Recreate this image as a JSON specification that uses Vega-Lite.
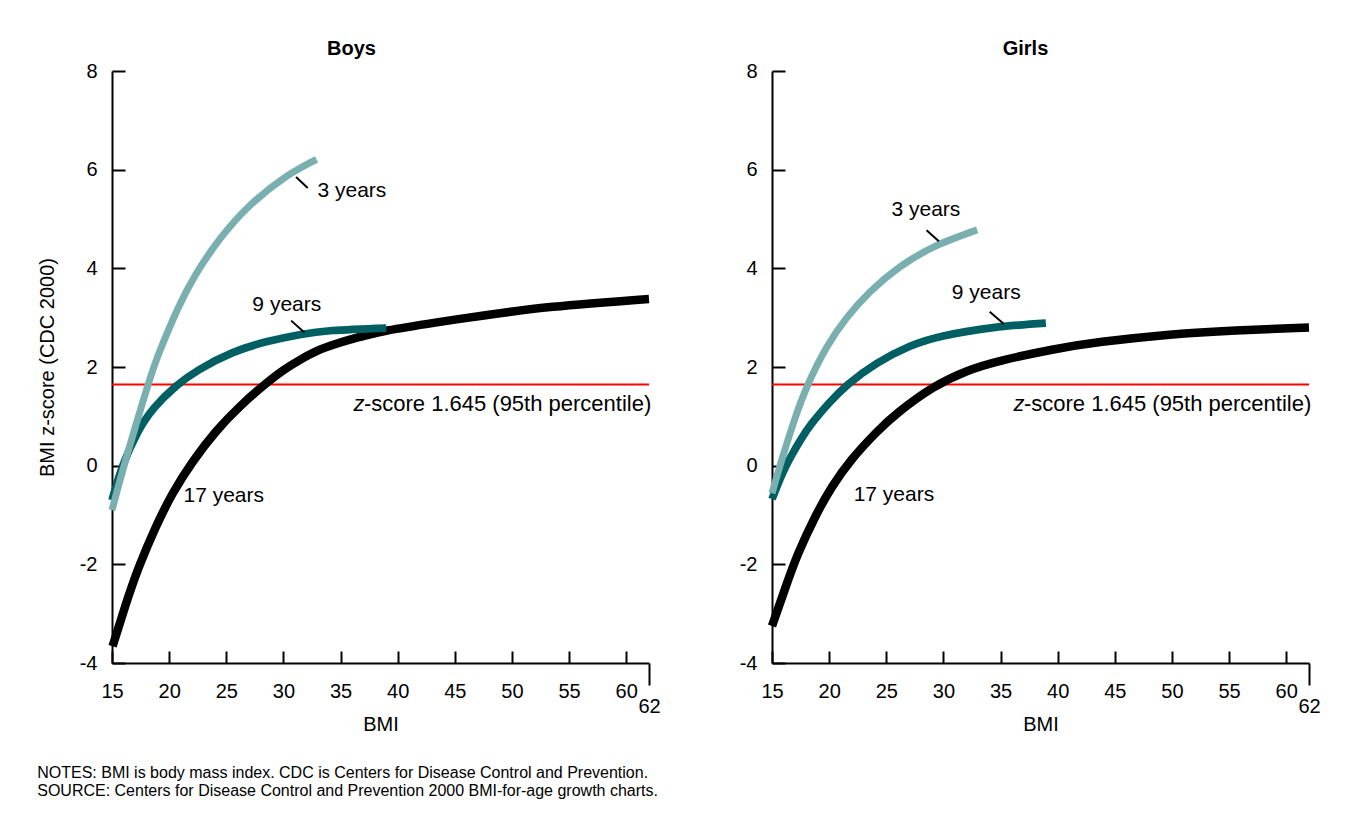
{
  "$schema": "https://vega.github.io/schema/vega-lite/v6.json",
  "padding": {"left": 37, "top": 39, "right": 20, "bottom": 20},
  "background": "white",
  "datasets": {
    "curves": [
      {"sex": "Boys", "age": "17 years", "bmi": 15.05, "z": -3.66},
      {"sex": "Boys", "age": "17 years", "bmi": 16.17, "z": -2.84},
      {"sex": "Boys", "age": "17 years", "bmi": 17.35, "z": -2.06},
      {"sex": "Boys", "age": "17 years", "bmi": 18.83, "z": -1.25},
      {"sex": "Boys", "age": "17 years", "bmi": 20.3, "z": -0.57},
      {"sex": "Boys", "age": "17 years", "bmi": 22.07, "z": 0.08},
      {"sex": "Boys", "age": "17 years", "bmi": 24.1, "z": 0.69},
      {"sex": "Boys", "age": "17 years", "bmi": 26.2, "z": 1.2},
      {"sex": "Boys", "age": "17 years", "bmi": 28.4, "z": 1.65},
      {"sex": "Boys", "age": "17 years", "bmi": 30.1, "z": 1.95},
      {"sex": "Boys", "age": "17 years", "bmi": 31.5, "z": 2.15},
      {"sex": "Boys", "age": "17 years", "bmi": 33.0, "z": 2.33},
      {"sex": "Boys", "age": "17 years", "bmi": 34.5, "z": 2.46},
      {"sex": "Boys", "age": "17 years", "bmi": 35.9, "z": 2.56},
      {"sex": "Boys", "age": "17 years", "bmi": 37.5, "z": 2.655},
      {"sex": "Boys", "age": "17 years", "bmi": 39.1, "z": 2.74},
      {"sex": "Boys", "age": "17 years", "bmi": 43.3, "z": 2.9},
      {"sex": "Boys", "age": "17 years", "bmi": 47.7, "z": 3.05},
      {"sex": "Boys", "age": "17 years", "bmi": 53.6, "z": 3.22},
      {"sex": "Boys", "age": "17 years", "bmi": 62.0, "z": 3.38},
      {"sex": "Boys", "age": "9 years", "bmi": 15.0, "z": -0.7},
      {"sex": "Boys", "age": "9 years", "bmi": 15.95, "z": 0.0},
      {"sex": "Boys", "age": "9 years", "bmi": 17.26, "z": 0.68},
      {"sex": "Boys", "age": "9 years", "bmi": 18.72, "z": 1.18},
      {"sex": "Boys", "age": "9 years", "bmi": 20.6, "z": 1.61},
      {"sex": "Boys", "age": "9 years", "bmi": 22.66, "z": 1.95},
      {"sex": "Boys", "age": "9 years", "bmi": 25.57, "z": 2.29},
      {"sex": "Boys", "age": "9 years", "bmi": 28.5, "z": 2.51},
      {"sex": "Boys", "age": "9 years", "bmi": 31.4, "z": 2.655},
      {"sex": "Boys", "age": "9 years", "bmi": 34.3, "z": 2.74},
      {"sex": "Boys", "age": "9 years", "bmi": 39.0, "z": 2.79},
      {"sex": "Boys", "age": "3 years", "bmi": 15.0, "z": -0.9},
      {"sex": "Boys", "age": "3 years", "bmi": 16.1, "z": 0.035},
      {"sex": "Boys", "age": "3 years", "bmi": 18.13, "z": 1.62},
      {"sex": "Boys", "age": "3 years", "bmi": 19.3, "z": 2.39},
      {"sex": "Boys", "age": "3 years", "bmi": 20.76, "z": 3.18},
      {"sex": "Boys", "age": "3 years", "bmi": 22.37, "z": 3.89},
      {"sex": "Boys", "age": "3 years", "bmi": 24.4, "z": 4.58},
      {"sex": "Boys", "age": "3 years", "bmi": 27.0, "z": 5.26},
      {"sex": "Boys", "age": "3 years", "bmi": 30.24, "z": 5.86},
      {"sex": "Boys", "age": "3 years", "bmi": 32.9, "z": 6.21},
      {"sex": "Girls", "age": "17 years", "bmi": 15.0, "z": -3.25},
      {"sex": "Girls", "age": "17 years", "bmi": 16.15, "z": -2.49},
      {"sex": "Girls", "age": "17 years", "bmi": 17.3, "z": -1.78},
      {"sex": "Girls", "age": "17 years", "bmi": 18.8, "z": -1.03},
      {"sex": "Girls", "age": "17 years", "bmi": 20.26, "z": -0.43},
      {"sex": "Girls", "age": "17 years", "bmi": 22.0, "z": 0.13},
      {"sex": "Girls", "age": "17 years", "bmi": 24.1, "z": 0.665},
      {"sex": "Girls", "age": "17 years", "bmi": 26.1, "z": 1.085},
      {"sex": "Girls", "age": "17 years", "bmi": 29.07, "z": 1.575},
      {"sex": "Girls", "age": "17 years", "bmi": 32.0, "z": 1.91},
      {"sex": "Girls", "age": "17 years", "bmi": 35.1, "z": 2.13},
      {"sex": "Girls", "age": "17 years", "bmi": 39.5, "z": 2.35},
      {"sex": "Girls", "age": "17 years", "bmi": 43.9, "z": 2.51},
      {"sex": "Girls", "age": "17 years", "bmi": 49.8, "z": 2.655},
      {"sex": "Girls", "age": "17 years", "bmi": 55.6, "z": 2.74},
      {"sex": "Girls", "age": "17 years", "bmi": 62.0, "z": 2.8},
      {"sex": "Girls", "age": "9 years", "bmi": 15.0, "z": -0.68},
      {"sex": "Girls", "age": "9 years", "bmi": 15.8, "z": -0.22},
      {"sex": "Girls", "age": "9 years", "bmi": 16.6, "z": 0.16},
      {"sex": "Girls", "age": "9 years", "bmi": 17.5, "z": 0.52},
      {"sex": "Girls", "age": "9 years", "bmi": 18.5, "z": 0.86},
      {"sex": "Girls", "age": "9 years", "bmi": 20.0, "z": 1.27},
      {"sex": "Girls", "age": "9 years", "bmi": 21.65, "z": 1.645},
      {"sex": "Girls", "age": "9 years", "bmi": 24.16, "z": 2.07},
      {"sex": "Girls", "age": "9 years", "bmi": 27.07, "z": 2.42},
      {"sex": "Girls", "age": "9 years", "bmi": 29.99, "z": 2.63},
      {"sex": "Girls", "age": "9 years", "bmi": 34.36, "z": 2.8},
      {"sex": "Girls", "age": "9 years", "bmi": 38.97, "z": 2.89},
      {"sex": "Girls", "age": "3 years", "bmi": 15.0, "z": -0.56},
      {"sex": "Girls", "age": "3 years", "bmi": 15.7, "z": 0.0},
      {"sex": "Girls", "age": "3 years", "bmi": 16.9, "z": 0.88},
      {"sex": "Girls", "age": "3 years", "bmi": 18.15, "z": 1.645},
      {"sex": "Girls", "age": "3 years", "bmi": 19.79, "z": 2.4},
      {"sex": "Girls", "age": "3 years", "bmi": 21.54, "z": 2.995},
      {"sex": "Girls", "age": "3 years", "bmi": 23.57, "z": 3.52},
      {"sex": "Girls", "age": "3 years", "bmi": 26.2, "z": 4.03},
      {"sex": "Girls", "age": "3 years", "bmi": 29.4, "z": 4.46},
      {"sex": "Girls", "age": "3 years", "bmi": 32.96, "z": 4.78}
    ],
    "labels": [
      {"sex": "Boys", "label": "3 years", "bmi": 36.0, "z": 5.56},
      {"sex": "Boys", "label": "9 years", "bmi": 30.3, "z": 3.26},
      {"sex": "Boys", "label": "17 years", "bmi": 24.78, "z": -0.61},
      {"sex": "Girls", "label": "3 years", "bmi": 28.47, "z": 5.19},
      {"sex": "Girls", "label": "9 years", "bmi": 33.75, "z": 3.51},
      {"sex": "Girls", "label": "17 years", "bmi": 25.67, "z": -0.6}
    ],
    "leaders": [
      {"sex": "Boys", "bmi": 31.11, "z": 5.85, "bmi2": 32.13, "z2": 5.63},
      {"sex": "Boys", "bmi": 30.68, "z": 2.94, "bmi2": 31.84, "z2": 2.7},
      {"sex": "Girls", "bmi": 28.53, "z": 4.77, "bmi2": 29.6, "z2": 4.55},
      {"sex": "Girls", "bmi": 34.05, "z": 3.12, "bmi2": 35.3, "z2": 2.87}
    ],
    "cutoff": [{"z": 1.645, "bmi": 62.2, "zt": 1.24, "bmiz": 37.1}]
  },
  "bounds": "flush",
  "spacing": 123,
  "title": {
    "text": ["NOTES: BMI is body mass index. CDC is Centers for Disease Control and Prevention.", "SOURCE: Centers for Disease Control and Prevention 2000 BMI-for-age growth charts."],
    "orient": "bottom",
    "anchor": "start",
    "fontSize": 16,
    "fontWeight": "normal",
    "lineHeight": 18,
    "offset": 31,
    "color": "#000000"
  },
  "hconcat": [
    {
      "title": {"text": "Boys", "fontSize": 20, "fontWeight": "bold", "anchor": "middle", "frame": "group", "dx": -29, "offset": 2, "color": "#000000"},
      "width": 537,
      "height": 592,
      "layer": [
        {
          "data": {"name": "cutoff"},
          "mark": {"type": "rule", "color": "#FF0000", "strokeWidth": 2},
          "encoding": {"y": {"field": "z", "type": "quantitative"}}
        },
        {
          "data": {"name": "curves"},
          "transform": [{"filter": "datum.sex == 'Boys'"}],
          "mark": {"type": "line", "interpolate": "natural", "strokeCap": "butt"},
          "encoding": {
            "x": {"field": "bmi", "type": "quantitative", "title": "BMI",
              "scale": {"domain": [15, 62], "nice": false, "zero": false},
              "axis": {"values": [15, 20, 25, 30, 35, 40, 45, 50, 55, 60, 62], "labelOverlap": false, "labelFlush": false, "labelExpr": "'' + datum.value",
                "tickSize": {"condition": {"test": "datum.value == 62", "value": 22}, "value": -12},
                "labelPadding": {"condition": {"test": "datum.value == 62", "value": 11}, "value": 30},
                "titlePadding": -2}},
            "y": {"field": "z", "type": "quantitative", "title": "BMI z-score (CDC 2000)",
              "scale": {"domain": [-4, 8], "nice": false, "zero": false},
              "axis": {"values": [-4, -2, 0, 2, 4, 6, 8], "labelOverlap": false, "labelFlush": false, "labelExpr": "'' + datum.value", "tickSize": -13, "labelPadding": 28, "titlePadding": 22}},
            "color": {"field": "age", "type": "nominal", "legend": null,
              "scale": {"domain": ["17 years", "9 years", "3 years"], "range": ["#000000", "#005F63", "#7AAFAF"]}},
            "strokeWidth": {"field": "age", "type": "nominal", "legend": null,
              "scale": {"domain": ["17 years", "9 years", "3 years"], "range": [8.5, 7, 7]}}
          }
        },
        {
          "data": {"name": "leaders"},
          "transform": [{"filter": "datum.sex == 'Boys'"}],
          "mark": {"type": "rule", "color": "#000000", "strokeWidth": 2},
          "encoding": {
            "x": {"field": "bmi", "type": "quantitative"}, "x2": {"field": "bmi2"},
            "y": {"field": "z", "type": "quantitative"}, "y2": {"field": "z2"}
          }
        },
        {
          "data": {"name": "labels"},
          "transform": [{"filter": "datum.sex == 'Boys'"}],
          "mark": {"type": "text", "fontSize": 21, "align": "center", "baseline": "middle", "color": "#000000"},
          "encoding": {
            "x": {"field": "bmi", "type": "quantitative"},
            "y": {"field": "z", "type": "quantitative"},
            "text": {"field": "label"}
          }
        },
        {
          "data": {"name": "cutoff"},
          "mark": {"type": "text", "fontSize": 22, "align": "right", "baseline": "middle", "color": "#000000", "text": "-score 1.645 (95th percentile)"},
          "encoding": {
            "x": {"field": "bmi", "type": "quantitative"},
            "y": {"field": "zt", "type": "quantitative"}
          }
        },
        {
          "data": {"name": "cutoff"},
          "mark": {"type": "text", "fontSize": 22, "fontStyle": "italic", "align": "right", "baseline": "middle", "color": "#000000", "text": "z"},
          "encoding": {
            "x": {"field": "bmiz", "type": "quantitative"},
            "y": {"field": "zt", "type": "quantitative"}
          }
        }
      ]
    },
    {
      "title": {"text": "Girls", "fontSize": 20, "fontWeight": "bold", "anchor": "middle", "frame": "group", "dx": -15, "offset": 2, "color": "#000000"},
      "width": 537,
      "height": 592,
      "layer": [
        {
          "data": {"name": "cutoff"},
          "mark": {"type": "rule", "color": "#FF0000", "strokeWidth": 2},
          "encoding": {"y": {"field": "z", "type": "quantitative"}}
        },
        {
          "data": {"name": "curves"},
          "transform": [{"filter": "datum.sex == 'Girls'"}],
          "mark": {"type": "line", "interpolate": "natural", "strokeCap": "butt"},
          "encoding": {
            "x": {"field": "bmi", "type": "quantitative", "title": "BMI",
              "scale": {"domain": [15, 62], "nice": false, "zero": false},
              "axis": {"values": [15, 20, 25, 30, 35, 40, 45, 50, 55, 60, 62], "labelOverlap": false, "labelFlush": false, "labelExpr": "'' + datum.value",
                "tickSize": {"condition": {"test": "datum.value == 62", "value": 22}, "value": -12},
                "labelPadding": {"condition": {"test": "datum.value == 62", "value": 11}, "value": 30},
                "titlePadding": -2}},
            "y": {"field": "z", "type": "quantitative", "title": null,
              "scale": {"domain": [-4, 8], "nice": false, "zero": false},
              "axis": {"values": [-4, -2, 0, 2, 4, 6, 8], "labelOverlap": false, "labelFlush": false, "labelExpr": "'' + datum.value", "tickSize": -13, "labelPadding": 28}},
            "color": {"field": "age", "type": "nominal", "legend": null,
              "scale": {"domain": ["17 years", "9 years", "3 years"], "range": ["#000000", "#005F63", "#7AAFAF"]}},
            "strokeWidth": {"field": "age", "type": "nominal", "legend": null,
              "scale": {"domain": ["17 years", "9 years", "3 years"], "range": [8.5, 7, 7]}}
          }
        },
        {
          "data": {"name": "leaders"},
          "transform": [{"filter": "datum.sex == 'Girls'"}],
          "mark": {"type": "rule", "color": "#000000", "strokeWidth": 2},
          "encoding": {
            "x": {"field": "bmi", "type": "quantitative"}, "x2": {"field": "bmi2"},
            "y": {"field": "z", "type": "quantitative"}, "y2": {"field": "z2"}
          }
        },
        {
          "data": {"name": "labels"},
          "transform": [{"filter": "datum.sex == 'Girls'"}],
          "mark": {"type": "text", "fontSize": 21, "align": "center", "baseline": "middle", "color": "#000000"},
          "encoding": {
            "x": {"field": "bmi", "type": "quantitative"},
            "y": {"field": "z", "type": "quantitative"},
            "text": {"field": "label"}
          }
        },
        {
          "data": {"name": "cutoff"},
          "mark": {"type": "text", "fontSize": 22, "align": "right", "baseline": "middle", "color": "#000000", "text": "-score 1.645 (95th percentile)"},
          "encoding": {
            "x": {"field": "bmi", "type": "quantitative"},
            "y": {"field": "zt", "type": "quantitative"}
          }
        },
        {
          "data": {"name": "cutoff"},
          "mark": {"type": "text", "fontSize": 22, "fontStyle": "italic", "align": "right", "baseline": "middle", "color": "#000000", "text": "z"},
          "encoding": {
            "x": {"field": "bmiz", "type": "quantitative"},
            "y": {"field": "zt", "type": "quantitative"}
          }
        }
      ]
    }
  ],
  "config": {
    "font": "Liberation Sans",
    "view": {"stroke": null},
    "axis": {
      "grid": false,
      "domainColor": "#000000",
      "domainWidth": 2,
      "tickColor": "#000000",
      "tickWidth": 2,
      "labelColor": "#000000",
      "labelFontSize": 20,
      "labelFont": "Liberation Sans",
      "titleColor": "#000000",
      "titleFontSize": 20,
      "titleFontWeight": "normal",
      "titleFont": "Liberation Sans"
    }
  }
}
